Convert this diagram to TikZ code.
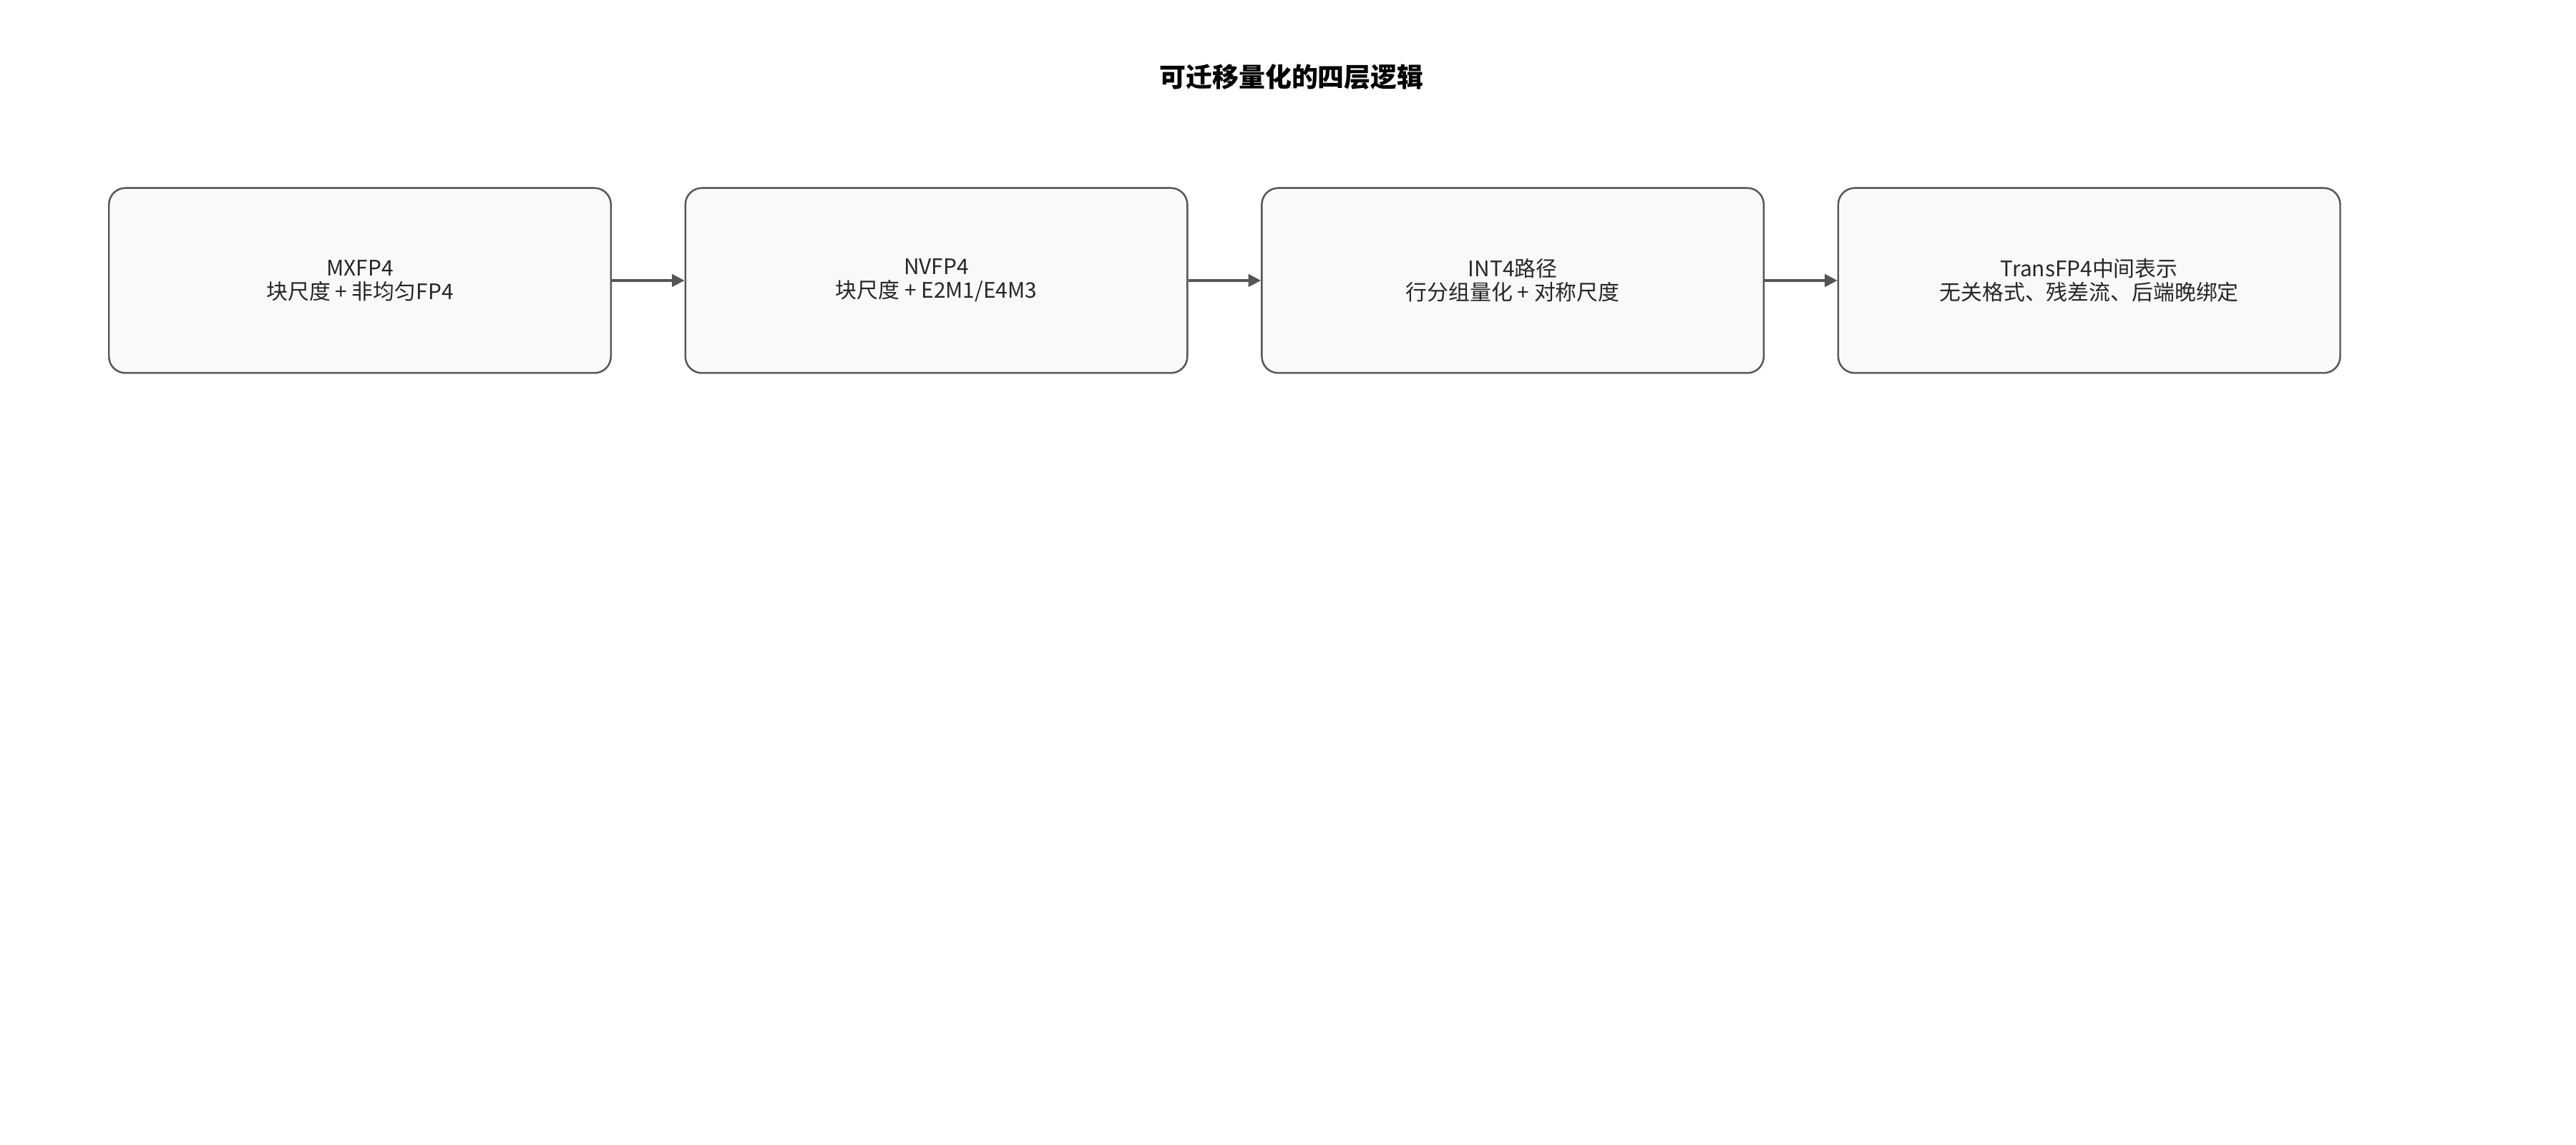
\documentclass[tikz,border=0pt]{standalone}
\usepackage{fontspec}
\setmainfont{Noto Sans CJK SC}
\usetikzlibrary{positioning,arrows.meta}
\definecolor{boxfill}{HTML}{F9F9F9}
\definecolor{boxline}{HTML}{555555}
\tikzset{
    layer/.style={draw=boxline, fill=boxfill, rounded corners=0.23cm, line width=0.7pt,
        minimum width=7.015cm, minimum height=2.585cm, align=center,
        font=\fontsize{8.5}{9.3}\selectfont, text=black!85},
    flow/.style={-{Triangle[length=5pt,width=5pt]}, draw=boxline, line width=0.9pt}
}
\begin{document}
\begin{tikzpicture}
        \useasboundingbox (0, 0) rectangle (36, 16);
        \node[font=\fontsize{10.5}{12}\selectfont\bfseries] (title_txt) at (18.05, 14.92) {可迁移量化的四层逻辑};
        \node[layer] (mx_box) at (5.03, 12.08) {MXFP4\\块尺度 + 非均匀FP4};
        \node[layer, right=1.016cm of mx_box] (nv_box) {NVFP4\\块尺度 + E2M1/E4M3};
        \node[layer, right=1.016cm of nv_box] (int_box) {INT4路径\\行分组量化 + 对称尺度};
        \node[layer, right=1.016cm of int_box] (trans_box) {TransFP4中间表示\\无关格式、残差流、后端晚绑定};
        \draw[flow] (mx_box) -- (nv_box);
        \draw[flow] (nv_box) -- (int_box);
        \draw[flow] (int_box) -- (trans_box);
    \end{tikzpicture}
\end{document}
